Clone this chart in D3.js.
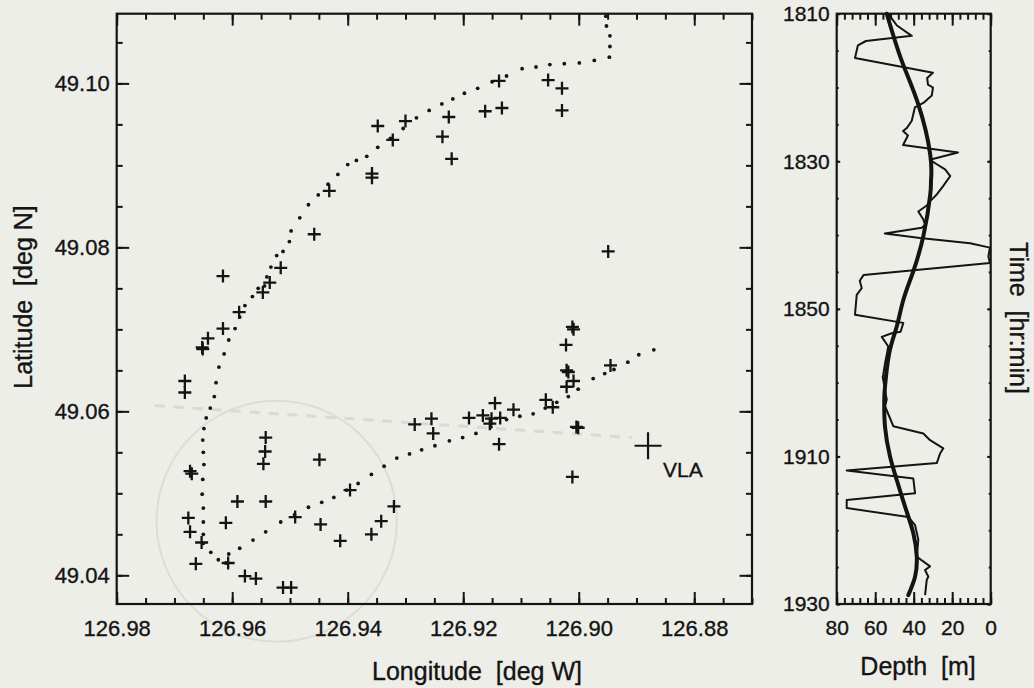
<!DOCTYPE html>
<html>
<head>
<meta charset="utf-8">
<script src="https://cdn.jsdelivr.net/npm/d3@7"></script>
<style>
  html, body { margin: 0; padding: 0; background: #eeeee9; }
  svg { display: block; }
</style>
</head>
<body>
<svg id="chart" width="1034" height="688"></svg>
<script>
// ---- Map panel: position fixes [lon °W, lat °N] ----
const fixes = [
  [126.9138, 49.1003], [126.9162, 49.0966], [126.9133, 49.0970], [126.9348, 49.0948],
  [126.9300, 49.0954], [126.9322, 49.0931], [126.9225, 49.0959], [126.9236, 49.0935],
  [126.9220, 49.0908], [126.9358, 49.0890], [126.9358, 49.0885], [126.9432, 49.0869],
  [126.9458, 49.0816], [126.9516, 49.0775], [126.9535, 49.0757], [126.9547, 49.0745],
  [126.9616, 49.0765], [126.9588, 49.0721], [126.9616, 49.0701], [126.9642, 49.0689],
  [126.9652, 49.0678], [126.9651, 49.0676], [126.9053, 49.1004], [126.9029, 49.0994],
  [126.9029, 49.0967], [126.8949, 49.0795], [126.9011, 49.0703], [126.9009, 49.0700],
  [126.9022, 49.0681], [126.9021, 49.0650], [126.9018, 49.0648], [126.9009, 49.0637],
  [126.9021, 49.0630], [126.9004, 49.0581], [126.9001, 49.0580], [126.9011, 49.0520],
  [126.8945, 49.0656], [126.9057, 49.0614], [126.9045, 49.0605], [126.9113, 49.0602],
  [126.9145, 49.0610], [126.9190, 49.0592], [126.9166, 49.0595], [126.9151, 49.0591],
  [126.9154, 49.0585], [126.9136, 49.0592], [126.9138, 49.0560], [126.9255, 49.0591],
  [126.9284, 49.0584], [126.9252, 49.0573], [126.9682, 49.0637], [126.9682, 49.0623],
  [126.9673, 49.0527], [126.9670, 49.0524], [126.9542, 49.0568], [126.9543, 49.0551],
  [126.9546, 49.0536], [126.9449, 49.0541], [126.9591, 49.0490], [126.9542, 49.0490],
  [126.9396, 49.0504], [126.9676, 49.0470], [126.9673, 49.0453], [126.9653, 49.0440],
  [126.9611, 49.0464], [126.9491, 49.0471], [126.9447, 49.0462], [126.9413, 49.0442],
  [126.9359, 49.0450], [126.9342, 49.0466], [126.9320, 49.0484], [126.9663, 49.0414],
  [126.9607, 49.0415], [126.9578, 49.0399], [126.9559, 49.0396], [126.9512, 49.0385],
  [126.9498, 49.0385]
];

// ---- Ship track, sampled at regular intervals [lon °W, lat °N] ----
const track = [
  [126.8953, 49.1082], [126.8952, 49.1070], [126.8946, 49.1058], [126.8946, 49.1045],
  [126.8947, 49.1032], [126.8973, 49.1028], [126.8999, 49.1025], [126.9025, 49.1024],
  [126.9050, 49.1023], [126.9074, 49.1020], [126.9098, 49.1018], [126.9125, 49.1009],
  [126.9150, 49.1002], [126.9175, 49.0994], [126.9198, 49.0988], [126.9218, 49.0981],
  [126.9237, 49.0975], [126.9259, 49.0967], [126.9281, 49.0958], [126.9304, 49.0945],
  [126.9326, 49.0933], [126.9348, 49.0922], [126.9367, 49.0911], [126.9385, 49.0906],
  [126.9400, 49.0901], [126.9417, 49.0889], [126.9434, 49.0877], [126.9451, 49.0864],
  [126.9468, 49.0852], [126.9483, 49.0836], [126.9498, 49.0820], [126.9501, 49.0807],
  [126.9512, 49.0795], [126.9523, 49.0790], [126.9533, 49.0776], [126.9540, 49.0764],
  [126.9544, 49.0753], [126.9555, 49.0750], [126.9565, 49.0740], [126.9578, 49.0729],
  [126.9587, 49.0715], [126.9595, 49.0701], [126.9606, 49.0687], [126.9614, 49.0670],
  [126.9623, 49.0654], [126.9628, 49.0635], [126.9631, 49.0618], [126.9638, 49.0604],
  [126.9645, 49.0592], [126.9649, 49.0579], [126.9651, 49.0565], [126.9650, 49.0550],
  [126.9649, 49.0535], [126.9651, 49.0517], [126.9652, 49.0499], [126.9650, 49.0482],
  [126.9650, 49.0465], [126.9650, 49.0450], [126.9650, 49.0439], [126.9637, 49.0428],
  [126.9624, 49.0419], [126.9611, 49.0415], [126.9606, 49.0426], [126.9587, 49.0433],
  [126.9564, 49.0443], [126.9542, 49.0453], [126.9516, 49.0465], [126.9492, 49.0474],
  [126.9468, 49.0483], [126.9445, 49.0489], [126.9424, 49.0495], [126.9402, 49.0504],
  [126.9382, 49.0512], [126.9359, 49.0523], [126.9337, 49.0533], [126.9315, 49.0543],
  [126.9293, 49.0548], [126.9272, 49.0553], [126.9249, 49.0558], [126.9224, 49.0564],
  [126.9201, 49.0568], [126.9178, 49.0573], [126.9152, 49.0581], [126.9125, 49.0590],
  [126.9102, 49.0594], [126.9079, 49.0597], [126.9058, 49.0604], [126.9038, 49.0611],
  [126.9018, 49.0618], [126.9001, 49.0627], [126.8975, 49.0640], [126.8955, 49.0646],
  [126.8939, 49.0651], [126.8915, 49.0660], [126.8896, 49.0669], [126.8870, 49.0675]
];

// ---- Receiver site, range ring and bearing line ----
const vla = [126.8880, 49.0558];
const vlaName = "VLA";
const ringCenter = [126.9523, 49.0466];
const ringRadius = [0.0208, 0.0147];           // [° lon, ° lat]
const bearing = [[126.9734, 49.0607], [126.8908, 49.0568]];

// ---- Map axes ----
const lonDomain = [126.98, 126.87];
const latDomain = [49.0365, 49.1085];
const lonTicks = [126.98, 126.96, 126.94, 126.92, 126.90, 126.88];
const lonTickLabels = ["126.98", "126.96", "126.94", "126.92", "126.90", "126.88"];
const latTicks = [49.04, 49.06, 49.08, 49.10];
const latTickLabels = ["49.04", "49.06", "49.08", "49.10"];
const lonTitle = "Longitude  [deg W]";
const latTitle = "Latitude  [deg N]";

// ---- Depth panel: [time (min after 18:00), depth m] ----
const depthProfile = [
  [10.1, 53], [11.6, 48.7], [13.0, 41], [13.7, 64.8], [14.3, 69], [16.0, 70.5],
  [18.0, 30], [18.7, 33], [19.6, 32.6], [20.0, 30], [21.1, 30.6], [22.1, 35],
  [22.7, 39.4], [24.5, 41], [25.5, 43.6], [25.9, 45.5], [26.5, 43], [27.8, 45.5],
  [28.8, 17], [29.8, 31.6], [30.4, 28], [31.1, 23.7], [32.0, 21], [33.4, 24.8],
  [34.5, 28], [35.4, 31.5], [36.0, 33.2], [36.8, 37.6], [37.9, 35], [38.6, 34],
  [39.0, 35.8], [39.8, 55], [40.4, 36.7], [41.1, 10.7], [41.7, 0.4], [42.9, 1.2],
  [43.8, 0.4], [45.4, 66], [46.2, 68], [47.2, 67], [48.1, 69.6], [50.8, 70.5],
  [51.9, 45.4], [53.1, 46.8], [53.3, 51.4], [53.8, 56.6], [55.1, 53.2], [56.2, 54],
  [57.4, 54.9], [58.9, 55.8], [59.2, 56.1], [61.0, 54.9], [62.3, 54], [63.2, 54.9],
  [65.9, 50.6], [66.9, 35], [67.8, 31.5], [68.9, 24.6], [69.6, 26.3], [70.9, 28],
  [71.9, 74.8], [73.0, 40.2], [75.0, 39.3], [75.9, 74.8], [77.0, 74.8], [78.2, 42.8],
  [79.3, 39.3], [81.3, 37.6], [83.6, 38.4], [84.9, 31.5], [85.4, 34.1], [86.3, 32.4],
  [86.7, 33.2], [88.8, 34.1]
];
const depthFit = [
  [10.0, 54.0], [16.4, 46.2], [22.3, 37.6], [29.1, 31.4], [32.6, 31.0], [34.5, 31.4],
  [39.9, 34.8], [44.9, 40.2], [48.8, 45.4], [52.4, 48.8], [56.0, 52.7], [60.5, 54.9],
  [62.3, 55.3], [66.0, 54.9], [70.0, 52.3], [73.2, 48.8], [76.8, 44.5], [80.4, 40.2],
  [83.6, 38.4], [86.3, 39.3], [88.8, 42.8]
];
const depthDomain = [80, 0];
const depthTicks = [80, 60, 40, 20, 0];
const depthTickLabels = ["80", "60", "40", "20", "0"];
const timeDomain = [10, 90];
const timeTicks = [10, 30, 50, 70, 90];
const timeTickLabels = ["1810", "1830", "1850", "1910", "1930"];
const depthTitle = "Depth  [m]";
const timeTitle = "Time  [hr:min]";

// ---- Drawing ----
const W = 1034, H = 688;
const ink = "#141414";
const font = "'Liberation Sans', Arial, Helvetica, sans-serif";
const titleFont = 25;

const svg = d3.select("#chart");
svg.append("rect").attr("width", W).attr("height", H).attr("fill", "#eeeee9");

function frameAxis(axisFn, scale, translate, major, minor, majorLen, minorLen, labels, pad, fs) {
  const mk = (vals, len, fmt) => {
    const g = svg.append("g")
      .attr("transform", `translate(${translate[0]},${translate[1]})`)
      .call(axisFn(scale).tickValues(vals).tickSize(-len).tickPadding(pad || 3).tickFormat(fmt));
    g.select(".domain").remove();
    g.attr("font-family", font).attr("font-size", fs || 22).attr("color", ink);
    g.selectAll("line").attr("stroke-width", 2);
    g.selectAll("text").attr("stroke", ink).attr("stroke-width", 0.35);
    return g;
  };
  mk(minor, minorLen, () => "");
  mk(major, majorLen, labels ? (d, i) => labels[i] : () => "");
}

function title(tx, ty, rot, txt) {
  svg.append("text")
    .attr("transform", `translate(${tx},${ty}) rotate(${rot})`)
    .attr("text-anchor", "middle").attr("font-family", font).attr("font-size", titleFont)
    .attr("fill", ink).attr("stroke", ink).attr("stroke-width", 0.35)
    .style("white-space", "pre").text(txt);
}

// Left panel: track map
const M = { left: 116.7, right: 752, top: 13.7, bottom: 604 };
const x = d3.scaleLinear().domain(lonDomain).range([M.left, M.right]);
const y = d3.scaleLinear().domain(latDomain).range([M.bottom, M.top]);
const lonMinor = d3.range(126.87, 126.9801, 0.005);
const latMinor = d3.range(49.04, 49.1081, 0.005);

// faint range ring and bearing line (drawn underneath)
svg.append("ellipse")
  .attr("cx", x(ringCenter[0])).attr("cy", y(ringCenter[1]))
  .attr("rx", Math.abs(x(ringCenter[0] - ringRadius[0]) - x(ringCenter[0])))
  .attr("ry", Math.abs(y(ringCenter[1] - ringRadius[1]) - y(ringCenter[1])))
  .attr("fill", "none").attr("stroke", "#dddcd7").attr("stroke-width", 2);
svg.append("path")
  .attr("d", d3.line().x(d => x(d[0])).y(d => y(d[1]))(bearing))
  .attr("fill", "none").attr("stroke", "#dad9d4").attr("stroke-width", 3)
  .attr("stroke-dasharray", "10,9");

svg.append("rect")
  .attr("x", M.left).attr("y", M.top)
  .attr("width", M.right - M.left).attr("height", M.bottom - M.top)
  .attr("fill", "none").attr("stroke", ink).attr("stroke-width", 2.2);

frameAxis(d3.axisBottom, x, [0, M.bottom], lonTicks, lonMinor, 12, 6, lonTickLabels, 16);
frameAxis(d3.axisTop, x, [0, M.top], lonTicks, lonMinor, 12, 6, null);
frameAxis(d3.axisLeft, y, [M.left, 0], latTicks, latMinor, 12.5, 6, latTickLabels, 7);
frameAxis(d3.axisRight, y, [M.right, 0], latTicks, latMinor, 12.5, 6, null);

// ship track
svg.append("g").selectAll("circle").data(track).join("circle")
  .attr("cx", d => x(d[0])).attr("cy", d => y(d[1])).attr("r", 1.9).attr("fill", ink);

// position fixes
const cross = (cx, cy, s) => `M${cx - s},${cy}H${cx + s}M${cx},${cy - s}V${cy + s}`;
svg.append("g").selectAll("path").data(fixes).join("path")
  .attr("d", d => cross(x(d[0]), y(d[1]), 6.5))
  .attr("stroke", ink).attr("stroke-width", 2.3).attr("fill", "none");

// receiver
svg.append("path").attr("d", cross(x(vla[0]), y(vla[1]), 13.5))
  .attr("stroke", ink).attr("stroke-width", 2.2).attr("fill", "none");
svg.append("text").attr("x", x(vla[0]) + 15).attr("y", y(vla[1]) + 31)
  .attr("font-family", font).attr("font-size", 21).attr("fill", ink)
  .attr("stroke", ink).attr("stroke-width", 0.35).text(vlaName);

title(477, 680, 0, lonTitle);
title(32, 297, -90, latTitle);

// Right panel: depth versus time
const D = { left: 836.7, right: 990.7, top: 13.7, bottom: 604 };
const dx = d3.scaleLinear().domain(depthDomain).range([D.left, D.right]);
const ty = d3.scaleLinear().domain(timeDomain).range([D.top, D.bottom]);
const depthMinor = d3.range(0, 80.1, 4);
const timeMinor = d3.range(10, 90.1, 5);

svg.append("rect")
  .attr("x", D.left).attr("y", D.top)
  .attr("width", D.right - D.left).attr("height", D.bottom - D.top)
  .attr("fill", "none").attr("stroke", ink).attr("stroke-width", 2.2);

frameAxis(d3.axisBottom, dx, [0, D.bottom], depthTicks, depthMinor, 12, 6, depthTickLabels, 16, 21);
frameAxis(d3.axisTop, dx, [0, D.top], depthTicks, depthMinor, 12, 6, null);
frameAxis(d3.axisLeft, ty, [D.left, 0], timeTicks, timeMinor, 3.5, 2, timeTickLabels, 7, 21);
frameAxis(d3.axisRight, ty, [D.right, 0], timeTicks, timeMinor, 3.5, 2, null);

svg.append("path")
  .attr("d", d3.line().x(d => dx(d[1])).y(d => ty(d[0]))(depthProfile))
  .attr("fill", "none").attr("stroke", ink).attr("stroke-width", 2)
  .attr("stroke-linejoin", "round");
svg.append("path")
  .attr("d", d3.line().curve(d3.curveNatural).x(d => dx(d[1])).y(d => ty(d[0]))(depthFit))
  .attr("fill", "none").attr("stroke", ink).attr("stroke-width", 4)
  .attr("stroke-linecap", "round");

title(918, 675, 0, depthTitle);
title(1010, 318, 90, timeTitle);
</script>
</body>
</html>
